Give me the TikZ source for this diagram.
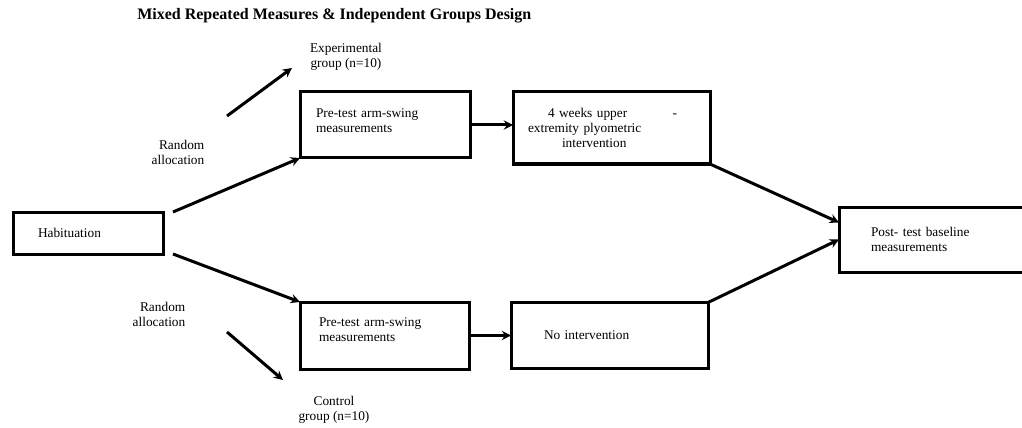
\documentclass[tikz,border=0pt]{standalone}
\usepackage{fontspec}
\setmainfont{Liberation Serif}
\usepackage{tikz}
\usetikzlibrary{positioning,arrows.meta}

\tikzset{
  box/.style={draw, rectangle, line width=2.25pt, outer sep=0pt, align=left, inner ysep=0pt},
  arr/.style={-{Stealth[length=7pt,width=7pt,inset=2.5pt]}, line width=2.25pt},
  lbl/.style={inner sep=0pt}
}

\begin{document}
\begin{tikzpicture}[x=0.75pt, y=-0.75pt, font=\fontsize{10pt}{11.25pt}\selectfont]
\clip (0,0) rectangle (1022,428);
% Title
\node[lbl, anchor=base west, font=\bfseries\fontsize{12pt}{14pt}\selectfont] (title) at (137,20) {Mixed Repeated Measures \& Independent Groups Design};

% Boxes
\node[box, minimum height=31.5pt, text width=75pt, inner xsep=18.75pt] (hab) at (88,233) {Habituation};
\node[box, minimum height=49.5pt, text width=103.5pt, inner xsep=12pt, above right=40.5pt and 102.75pt of hab] (pre1) {Pre-test arm-swing\\measurements\\[-5pt]\mbox{}};
\node[box, minimum height=50.25pt, text width=98.25pt, inner xsep=14.25pt, below right=36pt and 102.75pt of hab] (pre2) {Pre-test arm-swing\\measurements\\[-2pt]\mbox{}};
\node[box, minimum height=54pt, text width=125.25pt, inner xsep=11.25pt, right=32.25pt of pre1, yshift=-2.25pt] (train) {\hspace*{15pt}4 weeks upper\hspace*{34pt}-\\extremity plyometric\\\hspace*{25.5pt}intervention};
\node[box, minimum height=49.5pt, text width=98.25pt, inner xsep=24.75pt, right=31.5pt of pre2] (noint) {No intervention};
\node[box, minimum height=48.75pt, text width=102pt, inner xsep=24pt, below right=32.25pt and 96.75pt of train] (post) {Post- test baseline\\measurements};

% Labels
\node[lbl, align=center] (exp) at (346,57) {Experimental\\group (n=10)};
\node[lbl, align=right] (rand1) at (178,152) {Random\\allocation};
\node[lbl, align=right] (rand2) at (159,314) {Random\\allocation};
\node[lbl, align=center] (ctrl) at (334,410) {Control\\group (n=10)};

% Free arrow ends
\coordinate[right=7.5pt of hab.north east] (habtop);
\coordinate[right=7.5pt of hab.south east] (habbot);
\coordinate (expfrom) at (227,116);
\coordinate (expto) at (292,68);
\coordinate (ctlfrom) at (227,332);
\coordinate (ctlto) at (283,380);

% Arrows
\draw[arr] (expfrom) -- (expto);
\draw[arr] (ctlfrom) -- (ctlto);
\draw[arr] (habtop) -- (pre1.south west);
\draw[arr] (habbot) -- (pre2.north west);
\draw[arr] (pre1.east) -- (pre1.east -| train.west);
\draw[arr] (pre2) -- (noint);
\draw[arr] (train.south east) -- ([yshift=12.75pt]post.west);
\draw[arr] (noint.north east) -- (post.west);
\end{tikzpicture}
\end{document}
